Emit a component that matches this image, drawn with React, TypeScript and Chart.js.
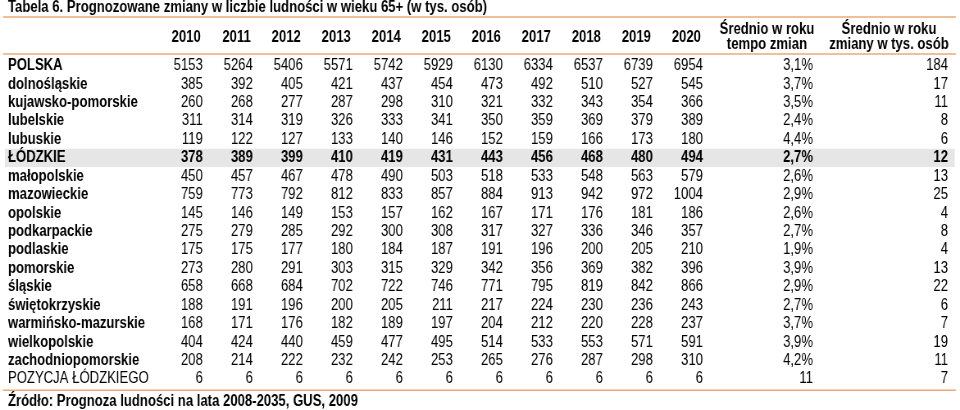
import React, { useEffect, useRef } from "react";
import { Chart, registerables } from "chart.js";

Chart.register(...registerables);

const TITLE = "Tabela 6. Prognozowane zmiany w liczbie ludności w wieku 65+ (w tys. osób)";
const SOURCE = "Źródło: Prognoza ludności na lata 2008-2035, GUS, 2009";

const regions = [
  "POLSKA", "dolnośląskie", "kujawsko-pomorskie", "lubelskie", "lubuskie", "ŁÓDZKIE",
  "małopolskie", "mazowieckie", "opolskie", "podkarpackie", "podlaskie", "pomorskie",
  "śląskie", "świętokrzyskie", "warmińsko-mazurskie", "wielkopolskie", "zachodniopomorskie",
  "POZYCJA ŁÓDZKIEGO",
];

const years = ["2010", "2011", "2012", "2013", "2014", "2015", "2016", "2017", "2018", "2019", "2020"];

const v2010 = [5153, 385, 260, 311, 119, 378, 450, 759, 145, 275, 175, 273, 658, 188, 168, 404, 208, 6];
const v2011 = [5264, 392, 268, 314, 122, 389, 457, 773, 146, 279, 175, 280, 668, 191, 171, 424, 214, 6];
const v2012 = [5406, 405, 277, 319, 127, 399, 467, 792, 149, 285, 177, 291, 684, 196, 176, 440, 222, 6];
const v2013 = [5571, 421, 287, 326, 133, 410, 478, 812, 153, 292, 180, 303, 702, 200, 182, 459, 232, 6];
const v2014 = [5742, 437, 298, 333, 140, 419, 490, 833, 157, 300, 184, 315, 722, 205, 189, 477, 242, 6];
const v2015 = [5929, 454, 310, 341, 146, 431, 503, 857, 162, 308, 187, 329, 746, 211, 197, 495, 253, 6];
const v2016 = [6130, 473, 321, 350, 152, 443, 518, 884, 167, 317, 191, 342, 771, 217, 204, 514, 265, 6];
const v2017 = [6334, 492, 332, 359, 159, 456, 533, 913, 171, 327, 196, 356, 795, 224, 212, 533, 276, 6];
const v2018 = [6537, 510, 343, 369, 166, 468, 548, 942, 176, 336, 200, 369, 819, 230, 220, 553, 287, 6];
const v2019 = [6739, 527, 354, 379, 173, 480, 563, 972, 181, 346, 205, 382, 842, 236, 228, 571, 298, 6];
const v2020 = [6954, 545, 366, 389, 180, 494, 579, 1004, 186, 357, 210, 396, 866, 243, 237, 591, 310, 6];

// average yearly growth rate (%), last row = rank of Łódzkie
const tempoZmian = [3.1, 3.7, 3.5, 2.4, 4.4, 2.7, 2.6, 2.9, 2.6, 2.7, 1.9, 3.9, 2.9, 2.7, 3.7, 3.9, 4.2, 11];
// average yearly change (thous.), last row = rank of Łódzkie
const zmianyTys = [184, 17, 11, 8, 6, 12, 13, 25, 4, 8, 4, 13, 22, 6, 7, 19, 11, 7];

const yearValues = [v2010, v2011, v2012, v2013, v2014, v2015, v2016, v2017, v2018, v2019, v2020];

const headerTempo = ["Średnio w roku", "tempo zmian"];
const headerZmiany = ["Średnio w roku", "zmiany w tys. osób"];

// ---- layout (not data) ----
// The canvas is drawn wider and squeezed horizontally by CSS so that the
// regular sans font looks like the narrow face of the original.
const VIEW_W = 960;
const VIEW_H = 410;
const SQUEEZE = 0.82;
const LOGICAL_W = Math.round(VIEW_W / SQUEEZE);
const FONT = "'Liberation Sans', Arial, sans-serif";
const FS = 16;
const ORANGE = "#eba874";
const BAND = "#e6e6e6";
const colX = [0, 1, 2, 3, 4, 5, 6, 7, 8, 9, 10, 12.2, 14.9];
const headTempoX = 11.28;
const headZmianyX = 13.72;
const HIGHLIGHT_ROW = 5;
const RANK_ROW = regions.length - 1;
const px = (screenPx: number) => screenPx / SQUEEZE;

function fmtTempo(v: number, ri: number) {
  if (ri === RANK_ROW) return String(v);
  return v.toFixed(1).replace(".", ",") + "%";
}

const columns: string[][] = [
  ...yearValues.map((arr) => arr.map((v) => String(v))),
  tempoZmian.map((v, i) => fmtTempo(v, i)),
  zmianyTys.map((v) => String(v)),
];

const tablePlugin = {
  id: "tablePlugin",
  beforeDraw(chart: any) {
    const { ctx, chartArea, scales } = chart;
    const y = scales.y;
    const yc = y.getPixelForValue(HIGHLIGHT_ROW);
    const h = (chartArea.bottom - chartArea.top) / regions.length;
    ctx.save();
    ctx.fillStyle = BAND;
    ctx.fillRect(px(5), yc - h / 2, px(950), h);
    ctx.restore();
  },
  afterDatasetsDraw(chart: any) {
    const { ctx, chartArea, scales } = chart;
    const x = scales.x;
    ctx.save();
    ctx.fillStyle = "#000";
    ctx.textBaseline = "middle";
    // cells
    chart.data.datasets.forEach((_ds: any, ci: number) => {
      const meta = chart.getDatasetMeta(ci);
      meta.data.forEach((pt: any, ri: number) => {
        const bold = ri === HIGHLIGHT_ROW;
        ctx.font = `${bold ? "bold " : ""}${FS}px ${FONT}`;
        ctx.textAlign = "right";
        ctx.fillText(columns[ci][ri], pt.x, pt.y);
      });
    });
    // header
    ctx.font = `bold ${FS}px ${FONT}`;
    years.forEach((yr, i) => {
      ctx.textAlign = "right";
      ctx.fillText(yr, x.getPixelForValue(colX[i]) - px(2), chartArea.top - 19);
    });
    ctx.textAlign = "center";
    const hx1 = x.getPixelForValue(headTempoX);
    const hx2 = x.getPixelForValue(headZmianyX);
    ctx.fillText(headerTempo[0], hx1, chartArea.top - 27);
    ctx.fillText(headerTempo[1], hx1, chartArea.top - 12);
    ctx.fillText(headerZmiany[0], hx2, chartArea.top - 27);
    ctx.fillText(headerZmiany[1], hx2, chartArea.top - 12);
    // rules
    ctx.strokeStyle = ORANGE;
    ctx.lineWidth = 1.5;
    const lx0 = px(3);
    const lx1 = px(956);
    [17, chartArea.top - 2.5, chartArea.bottom + 2].forEach((ly) => {
      ctx.beginPath();
      ctx.moveTo(lx0, ly);
      ctx.lineTo(lx1, ly);
      ctx.stroke();
    });
    ctx.restore();
  },
};

export default function App() {
  const ref = useRef<HTMLCanvasElement | null>(null);
  useEffect(() => {
    document.body.style.margin = "0";
    const canvas = ref.current;
    if (!canvas) return;
    const chart = new Chart(canvas, {
      type: "scatter",
      data: {
        datasets: columns.map((_, ci) => ({
          label: ci < years.length ? years[ci] : ci === years.length ? "tempo" : "zmiany",
          data: regions.map((r) => ({ x: colX[ci], y: r })),
          pointRadius: 0,
          pointHoverRadius: 0,
        })),
      },
      options: {
        animation: false,
        responsive: false,
        maintainAspectRatio: false,
        devicePixelRatio: 1,
        events: [],
        layout: { padding: { left: px(8), right: px(5), top: 0, bottom: 0 } },
        plugins: {
          legend: { display: false },
          tooltip: { enabled: false },
          title: {
            display: true,
            text: TITLE,
            align: "start",
            color: "#000",
            font: { family: FONT, size: FS, weight: "bold", lineHeight: 0.95 },
            padding: { top: 0, bottom: 41.4 },
          },
          subtitle: {
            display: true,
            position: "bottom",
            text: SOURCE,
            align: "start",
            color: "#000",
            font: { family: FONT, size: FS, weight: "bold", lineHeight: 1 },
            padding: { top: 5.3, bottom: 0.5 },
          },
        },
        scales: {
          x: { type: "linear", min: -0.944, max: 15.04, display: false },
          y: {
            type: "category",
            labels: regions,
            offset: true,
            grid: { display: false, drawTicks: false },
            border: { display: false },
            afterFit: (scale: any) => {
              scale.width = px(147.6);
            },
            ticks: {
              crossAlign: "far",
              padding: 0,
              color: "#000",
              autoSkip: false,
              font: (c: any) => ({
                family: FONT,
                size: FS,
                weight: c.index === RANK_ROW ? "normal" : "bold",
              }),
            },
          },
        },
      },
      plugins: [tablePlugin],
    } as any);
    return () => chart.destroy();
  }, []);
  return (
    <div style={{ width: VIEW_W, height: VIEW_H, background: "#fff", overflow: "hidden" }}>
      <canvas
        ref={ref}
        width={LOGICAL_W}
        height={VIEW_H}
        style={{ display: "block", width: VIEW_W, height: VIEW_H }}
      />
    </div>
  );
}
